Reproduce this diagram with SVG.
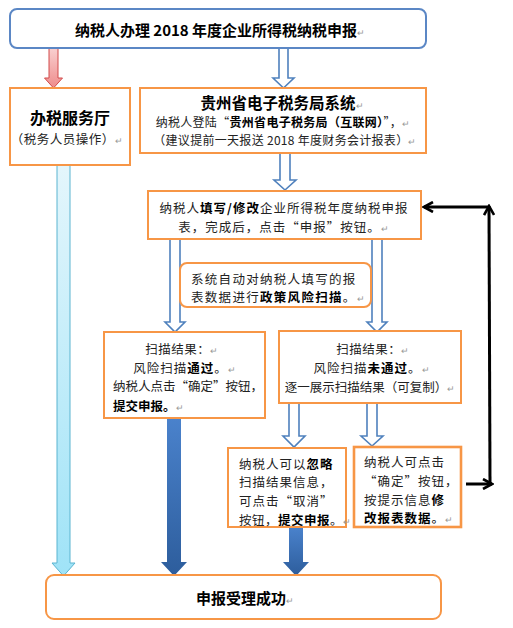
<svg xmlns="http://www.w3.org/2000/svg" width="513" height="628" viewBox="0 0 513 628">
<defs>
<linearGradient id="gRed" x1="0" y1="0" x2="0" y2="1"><stop offset="0" stop-color="#f9d0d0"/><stop offset="1" stop-color="#ee8b8b"/></linearGradient>
<linearGradient id="gLight" x1="0" y1="0" x2="0" y2="1"><stop offset="0" stop-color="#e4f6fc"/><stop offset="1" stop-color="#9fe3f7"/></linearGradient>
<linearGradient id="gDark" x1="0" y1="0" x2="0" y2="1"><stop offset="0" stop-color="#4a82cc"/><stop offset="1" stop-color="#2d5d9c"/></linearGradient>
<marker id="chev" viewBox="0 0 12 12" refX="10" refY="6" markerWidth="12" markerHeight="12" markerUnits="userSpaceOnUse" orient="auto">
<path d="M1,1 L10,6 L1,11" fill="none" stroke="#000" stroke-width="2.6" stroke-linejoin="miter"/>
</marker>
</defs>
<style>
.box{fill:#fff;stroke:#f79646;stroke-width:2}
.bbox{fill:#fff;stroke:#5b87c5;stroke-width:2}
.hollow{fill:#fff;stroke:#4f81bd;stroke-width:1.6}
text{font-family:"Noto Sans CJK SC","Liberation Sans",sans-serif;fill:#222;font-size:12.5px}
.b{font-weight:bold;fill:#000}
.h{font-weight:bold;fill:#000;font-size:15px}
.m{fill:#999;font-size:9px;font-weight:normal}
.c{text-anchor:middle}
</style>
<rect width="513" height="628" fill="#fff"/>

<g id="connectors">
<path d="M49,48 L58,48 L58,78 L62.5,78 L53.5,88 L44.5,78 L49,78 Z" fill="url(#gRed)" stroke="#d24a4a" stroke-width="1"/>
<path class="hollow" d="M279,48 L288,48 L288,78 L294,78 L283.5,88 L273,78 L279,78 Z"/>
<path class="hollow" d="M280,153 L290,153 L290,180 L296,180 L285,190 L274,180 L280,180 Z"/>
<path class="hollow" d="M170,239 L180,239 L180,322 L185,322 L175,332 L165,322 L170,322 Z"/>
<path class="hollow" d="M372,239 L382,239 L382,322 L387,322 L377,332 L367,322 L372,322 Z"/>
<path class="hollow" d="M289,403 L299,403 L299,436 L305,436 L294,447 L283,436 L289,436 Z"/>
<path class="hollow" d="M367,403 L377,403 L377,436 L383,436 L372,446 L361,436 L367,436 Z"/>
<path d="M57,165 L70,165 L70,563 L75,563 L63.5,576 L52,563 L57,563 Z" fill="url(#gLight)" stroke="#5ab4d0" stroke-width="1"/>
<path d="M167,418 L181,418 L181,562 L187,562 L174,576 L161,562 L167,562 Z" fill="url(#gDark)"/>
<path d="M289,527 L303,527 L303,562 L309,562 L296,576 L283,562 L289,562 Z" fill="url(#gDark)"/>
<line x1="489" y1="207" x2="424" y2="207" stroke="#000" stroke-width="3" marker-end="url(#chev)"/>
<line x1="490" y1="484" x2="489" y2="206" stroke="#000" stroke-width="3" marker-end="url(#chev)"/>
<line x1="466" y1="484" x2="492" y2="484" stroke="#000" stroke-width="3" marker-end="url(#chev)"/>
</g>

<g id="n_top">
<rect class="bbox" x="10" y="9" width="416" height="39" rx="7"/>
<text class="h c" x="220" y="36">纳税人办理 2018 年度企业所得税纳税申报<tspan class="m">↵</tspan></text>
</g>

<g id="n_hall">
<rect class="box" x="10" y="88" width="120" height="77"/>
<text class="b c" x="70" y="124" style="font-size:16px">办税服务厅</text>
<text class="c" x="67" y="144" style="letter-spacing:0.5px">（税务人员操作）<tspan class="m">↵</tspan></text>
</g>

<g id="n_gz">
<rect class="box" x="140" y="88" width="286" height="65"/>
<text class="h c" x="282" y="109" style="font-size:15.5px">贵州省电子税务局系统<tspan class="m">↵</tspan></text>
<text class="c" x="283" y="127" style="font-size:12px;letter-spacing:0.3px">纳税人登陆“<tspan class="b">贵州省电子税务局（互联网）</tspan>”，<tspan class="m">↵</tspan></text>
<text class="c" x="285" y="145" style="font-size:12px;letter-spacing:0.3px">（建议提前一天报送 2018 年度财务会计报表）<tspan class="m">↵</tspan></text>
</g>

<g id="n_fill">
<rect class="box" x="148" y="191" width="273" height="48"/>
<text class="c" x="284" y="213" style="letter-spacing:1px">纳税人<tspan class="b">填写/修改</tspan>企业所得税年度纳税申报</text>
<text class="c" x="284" y="232" style="letter-spacing:1px">表，完成后，点击“申报”按钮。<tspan class="m">↵</tspan></text>
</g>

<g id="n_scan">
<rect class="box" x="180" y="263" width="191" height="44" rx="7"/>
<text x="191" y="284" style="letter-spacing:1.3px">系统自动对纳税人填写的报</text>
<text x="191" y="302" style="letter-spacing:1.3px">表数据进行<tspan class="b">政策风险扫描</tspan>。<tspan class="m">↵</tspan></text>
</g>

<g id="n_pass">
<rect class="box" x="104" y="332" width="161" height="86"/>
<text class="c" x="182" y="354" style="letter-spacing:0.5px">扫描结果：<tspan class="m">↵</tspan></text>
<text class="c" x="185" y="373" style="letter-spacing:1px">风险扫描<tspan class="b">通过</tspan>。<tspan class="m">↵</tspan></text>
<text x="113" y="391">纳税人点击“确定”按钮，</text>
<text x="113" y="411" class="b">提交申报。<tspan class="m">↵</tspan></text>
</g>

<g id="n_fail">
<rect class="box" x="279" y="331" width="182" height="72"/>
<text class="c" x="373" y="354" style="letter-spacing:0.5px">扫描结果：<tspan class="m">↵</tspan></text>
<text class="c" x="372" y="373" style="letter-spacing:1px">风险扫描<tspan class="b">未通过</tspan>。<tspan class="m">↵</tspan></text>
<text class="c" x="370" y="392">逐一展示扫描结果（可复制）<tspan class="m">↵</tspan></text>
</g>

<g id="n_ignore">
<rect class="box" x="228" y="448" width="118" height="79"/>
<text x="239" y="469" style="letter-spacing:1px">纳税人可以<tspan class="b">忽略</tspan></text>
<text x="239" y="487" style="letter-spacing:1px">扫描结果信息，</text>
<text x="239" y="506" style="letter-spacing:1px">可点击“取消”</text>
<text x="239" y="525" style="letter-spacing:0.5px">按钮，<tspan class="b">提交申报</tspan>。<tspan class="m">↵</tspan></text>
</g>

<g id="n_confirm">
<rect class="box" x="354" y="447" width="107" height="80" style="stroke-width:2.6"/>
<text x="364" y="467" style="letter-spacing:1px">纳税人可点击</text>
<text x="364" y="486" style="letter-spacing:1px">“确定”按钮，</text>
<text x="364" y="505" style="letter-spacing:1px">按提示信息<tspan class="b">修</tspan></text>
<text x="364" y="523" class="b" style="letter-spacing:1px">改报表数据<tspan style="font-weight:normal">。</tspan><tspan class="m">↵</tspan></text>
</g>

<g id="n_done">
<rect class="box" x="46" y="575" width="395" height="44" rx="8"/>
<text class="h c" x="245" y="604">申报受理成功<tspan class="m">↵</tspan></text>
</g>
</svg>
